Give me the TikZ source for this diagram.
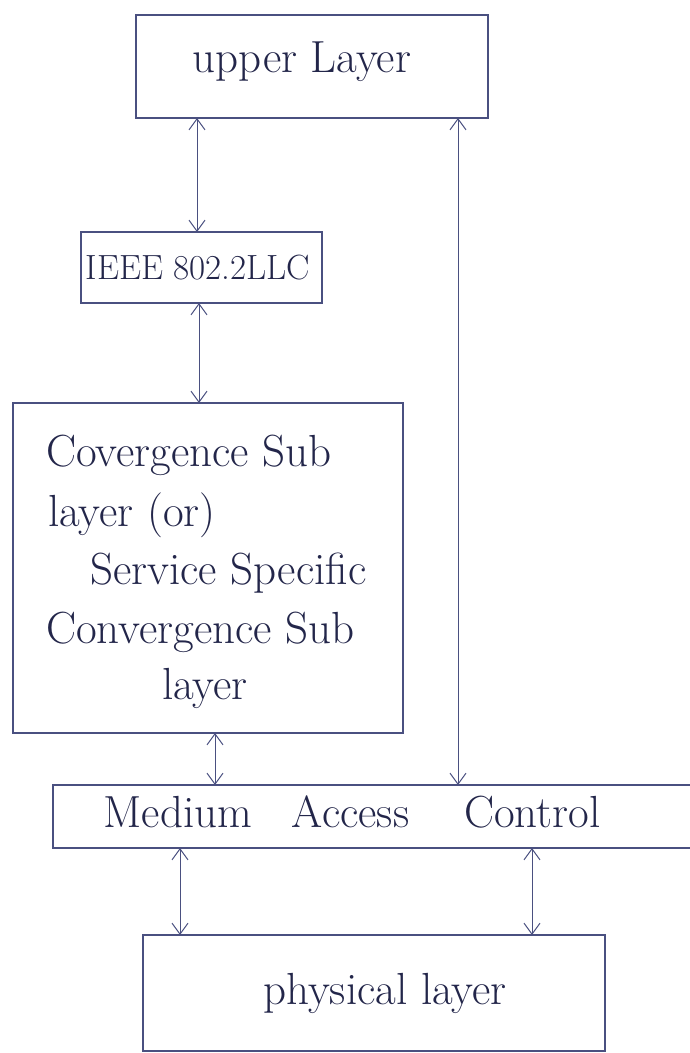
\documentclass[tikz,border=0pt]{standalone}
\usepackage{fontspec}
\usetikzlibrary{arrows.meta}
\definecolor{ink}{HTML}{23264A}
\definecolor{pen}{HTML}{4A5080}
\tikzset{
  layerbox/.style={draw=pen, line width=1.2pt, inner sep=0pt, outer sep=0pt},
  hand/.style={text=ink, inner sep=0pt, font=\fontsize{45}{52}\selectfont},
  handsmall/.style={text=ink, inner sep=0pt, font=\fontsize{35}{40}\selectfont},
  link/.style={draw=pen, line width=1pt,
    {Straight Barb[length=11pt,width=16pt]}-{Straight Barb[length=11pt,width=16pt]}},
}
\begin{document}
\begin{tikzpicture}[x=1pt,y=-1pt]
\useasboundingbox (0,0) rectangle (690,1053);

% layer boxes
\node[layerbox, minimum width=352pt, minimum height=103pt] (ul)   at (312,66.5) {};
\node[layerbox, minimum width=241pt, minimum height=71pt]  (llc)  at (201.5,267.5) {};
\node[layerbox, minimum width=390pt, minimum height=330pt] (cs)   at (208,568) {};
\node[layerbox, minimum width=647pt, minimum height=63pt]  (mac)  at (376.5,816.5) {};
\node[layerbox, minimum width=462pt, minimum height=116pt] (phy)  at (374,993) {};

% labels
\node[hand] (ultxt) at (302,62) {upper Layer};
\node[handsmall] (llctxt) at (198,268) {IEEE 802.2LLC};
\node[hand, anchor=west] (cs1) at (46,455) {Covergence Sub};
\node[hand, anchor=west] (cs2) at (48,515) {layer (or)};
\node[hand, anchor=west] (cs3) at (90,573) {Service Specific};
\node[hand, anchor=west] (cs4) at (46,632) {Convergence Sub};
\node[hand] (cs5) at (205,688) {layer};
\node[hand] (mactxt) at (352,812) {Medium\hspace{40pt}Access\hspace{55pt}Control};
\node[hand] (phytxt) at (385,993) {physical layer};

% x positions of the links
\coordinate (xa) at (197,0);
\coordinate (xb) at (199,0);
\coordinate (xc) at (215,0);
\coordinate (xd) at (458,0);
\coordinate (xe) at (180,0);
\coordinate (xf) at (532,0);

% links between layers
\draw[link] (ul.south -| xa) -- (llc.north -| xa);
\draw[link] (llc.south -| xb) -- (cs.north -| xb);
\draw[link] (cs.south -| xc) -- (mac.north -| xc);
\draw[link] (ul.south -| xd) -- (mac.north -| xd);
\draw[link] (mac.south -| xe) -- (phy.north -| xe);
\draw[link] (mac.south -| xf) -- (phy.north -| xf);
\end{tikzpicture}
\end{document}
